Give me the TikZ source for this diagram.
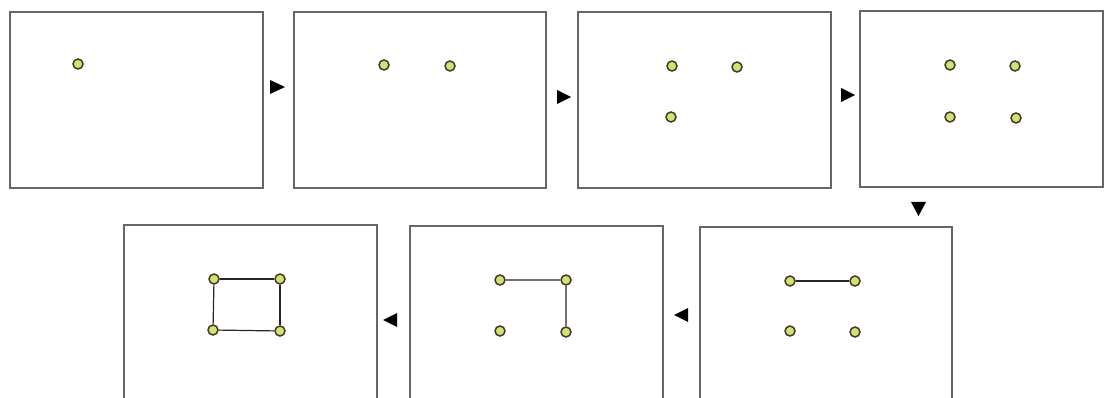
\documentclass[tikz,border=0pt]{standalone}
\definecolor{dotfill}{RGB}{214,222,120}
\definecolor{dotline}{RGB}{60,62,40}
\begin{document}
\begin{tikzpicture}[x=1pt,y=-1pt,
  panel/.style={draw=black!60,line width=1.4pt},
  dot/.style={circle,draw=dotline,fill=dotfill,line width=1.5pt,minimum size=10pt,inner sep=0pt},
  link/.style={draw=black!85,line width=1.2pt},
  glink/.style={draw=black!55,line width=1.6pt},
  tri/.style={fill=black}]
\useasboundingbox (0,0) rectangle (1105,398);
% top row panels
\draw[panel] (10,12) rectangle (263,188);
\draw[panel] (294,12) rectangle (546,188);
\draw[panel] (578,12) rectangle (831,188);
\draw[panel] (860,11) rectangle (1103,187);
% bottom row panels (cut by bottom edge)
\draw[panel] (124,402) -- (124,225) -- (377,225) -- (377,402);
\draw[panel] (410,402) -- (410,226) -- (663,226) -- (663,402);
\draw[panel] (700,402) -- (700,227) -- (952,227) -- (952,402);
% arrows between panels
\fill[tri] (270,80) -- (285,87) -- (270,94) -- cycle;
\fill[tri] (557,90) -- (571,97) -- (557,104) -- cycle;
\fill[tri] (841,88) -- (855,95) -- (841,102) -- cycle;
\fill[tri] (911,202) -- (926,202) -- (918.5,216) -- cycle;
\fill[tri] (688,308) -- (674,315) -- (688,322) -- cycle;
\fill[tri] (397,313) -- (383,320) -- (397,327) -- cycle;
% panel 1
\node[dot] (a1) at (78,64) {};
% panel 2
\node[dot] (b1) at (384,65) {};
\node[dot] (b2) at (450,66) {};
% panel 3
\node[dot] (c1) at (672,66) {};
\node[dot] (c2) at (737,67) {};
\node[dot] (c3) at (671,117) {};
% panel 4
\node[dot] (d1) at (950,65) {};
\node[dot] (d2) at (1015,66) {};
\node[dot] (d3) at (950,117) {};
\node[dot] (d4) at (1016,118) {};
% panel 7 (bottom right)
\node[dot] (e1) at (790,281) {};
\node[dot] (e2) at (855,281) {};
\node[dot] (e3) at (790,331) {};
\node[dot] (e4) at (855,332) {};
\draw[link] (e1) -- (e2);
% panel 6 (bottom middle)
\node[dot] (f1) at (500,280) {};
\node[dot] (f2) at (566,280) {};
\node[dot] (f3) at (500,331) {};
\node[dot] (f4) at (566,332) {};
\draw[glink] (f1) -- (f2);
\draw[glink] (f2) -- (f4);
% panel 5 (bottom left)
\node[dot] (g1) at (214,279) {};
\node[dot] (g2) at (280,279) {};
\node[dot] (g3) at (213,330) {};
\node[dot] (g4) at (280,331) {};
\draw[link] (g1) -- (g2);
\draw[link] (g2) -- (g4);
\draw[link] (g4) -- (g3);
\draw[link] (g3) -- (g1);
\end{tikzpicture}
\end{document}
